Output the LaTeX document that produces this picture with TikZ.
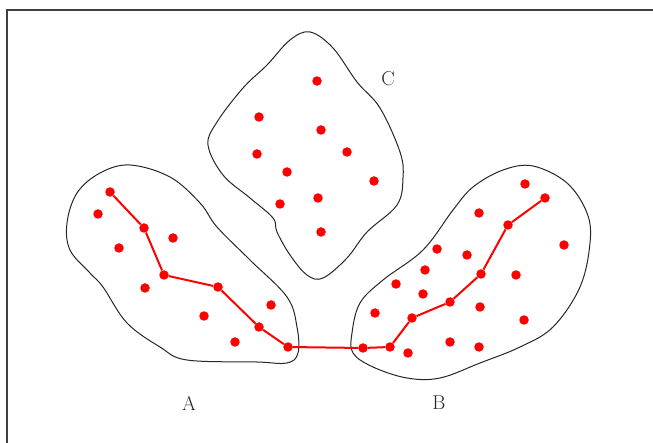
\documentclass[tikz,border=0pt]{standalone}
\begin{document}
\begin{tikzpicture}[x=1pt,y=-1pt,
  dot/.style={circle,fill=red,inner sep=0pt,minimum size=9.5pt},
  chain/.style={red,line width=2pt},
  blob/.style={draw=black!85,line width=1pt},
  lbl/.style={font=\fontsize{20}{23}\selectfont,text=black!85}]
\useasboundingbox (0,0) rectangle (653,443);
\draw[line width=1.6pt,black!75] (7,443) -- (7,10) -- (653,10);
% blobs
\draw[blob] plot[smooth cycle,tension=0.6] coordinates {(290,40)(310,32)(333,48)(357,82)(380,108)(400,152)(403,178)(397,205)(367,232)(347,258)(323,278)(307,275)(290,255)(277,232)(273,218)(250,198)(223,175)(208,145)(217,122)(243,88)(267,65)};
\draw[blob] plot[smooth cycle,tension=0.6] coordinates {(130,165)(170,177)(200,203)(217,227)(250,260)(287,297)(297,327)(298,353)(287,363)(257,362)(187,360)(160,347)(127,323)(103,287)(90,273)(70,250)(67,223)(77,193)(100,173)};
\draw[blob] plot[smooth cycle,tension=0.6] coordinates {(533,166)(567,183)(587,213)(590,243)(580,287)(553,327)(520,347)(480,363)(440,378)(407,378)(373,367)(353,353)(352,333)(360,303)(383,280)(423,250)(453,210)(473,187)(503,170)};
% A dots
\node[dot] (a1) at (110,192) {};
\node[dot] (a2) at (98,214) {};
\node[dot] (a3) at (144,228) {};
\node[dot] (a4) at (173,238) {};
\node[dot] (a5) at (119,248) {};
\node[dot] (a6) at (164,275) {};
\node[dot] (a7) at (145,288) {};
\node[dot] (a8) at (218,287) {};
\node[dot] (a9) at (271,305) {};
\node[dot] (a10) at (204,316) {};
\node[dot] (a11) at (259,327) {};
\node[dot] (a12) at (235,342) {};
\node[dot] (a13) at (288,347) {};
% B dots
\node[dot] (b1) at (525,184) {};
\node[dot] (b2) at (545,198) {};
\node[dot] (b3) at (479,213) {};
\node[dot] (b4) at (508,225) {};
\node[dot] (b5) at (564,245) {};
\node[dot] (b6) at (437,249) {};
\node[dot] (b7) at (467,255) {};
\node[dot] (b8) at (425,270) {};
\node[dot] (b9) at (516,275) {};
\node[dot] (b10) at (481,274) {};
\node[dot] (b11) at (396,284) {};
\node[dot] (b12) at (423,294) {};
\node[dot] (b13) at (450,302) {};
\node[dot] (b14) at (480,307) {};
\node[dot] (b15) at (375,313) {};
\node[dot] (b16) at (412,318) {};
\node[dot] (b17) at (524,320) {};
\node[dot] (b18) at (450,342) {};
\node[dot] (b19) at (479,347) {};
\node[dot] (b20) at (363,348) {};
\node[dot] (b21) at (390,347) {};
\node[dot] (b22) at (408,353) {};
% C dots
\node[dot] (c1) at (317,81) {};
\node[dot] (c2) at (259,117) {};
\node[dot] (c3) at (321,130) {};
\node[dot] (c4) at (257,154) {};
\node[dot] (c5) at (347,152) {};
\node[dot] (c6) at (287,172) {};
\node[dot] (c7) at (374,181) {};
\node[dot] (c8) at (318,198) {};
\node[dot] (c9) at (280,204) {};
\node[dot] (c10) at (321,232) {};
% chain
\draw[chain] (a1) -- (a3) -- (a6) -- (a8) -- (a11) -- (a13) -- (b20) -- (b21) -- (b16) -- (b13) -- (b10) -- (b4) -- (b2);
% labels
\node[lbl] (la) at (189,403) {A};
\node[lbl] (lb) at (439,403) {B};
\node[lbl] (lc) at (388,79) {C};
\end{tikzpicture}
\end{document}
